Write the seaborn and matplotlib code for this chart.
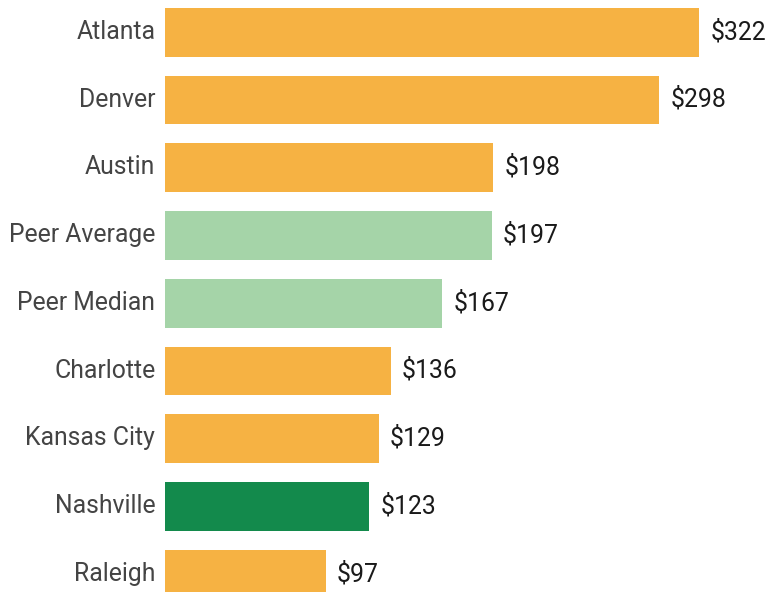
import pandas as pd
import matplotlib
matplotlib.use("Agg")
import matplotlib.pyplot as plt
import seaborn as sns

# Values
cities = ["Atlanta", "Denver", "Austin", "Peer Average", "Peer Median",
          "Charlotte", "Kansas City", "Nashville", "Raleigh"]
cost = [322, 298, 198, 197, 167, 136, 129, 123, 97]
group = ["city", "city", "city", "peer", "peer", "city", "city", "focus", "city"]

colors = {"city": "#F6B243", "peer": "#A5D4A8", "focus": "#138A4C"}

df = pd.DataFrame({"City": cities, "Cost": cost, "Group": group})

sns.set_style("white")
plt.rcParams['font.family'] = ['Roboto', 'DejaVu Sans']

fig = plt.figure(figsize=(7.83, 5.92), dpi=100)
ax = fig.add_axes([165 / 783, 0, 1 - 165 / 783, 1])

sns.barplot(data=df, y="City", x="Cost", hue="Group", palette=colors,
            dodge=False, width=0.72, saturation=1, legend=False,
            linewidth=0, ax=ax)

ax.set_xlim(0, 618 / 1.659)
ax.set_ylim(8.261, -0.477)

# city names left of the axis and values at the end of each bar
for i, (name, v) in enumerate(zip(cities, cost)):
    ax.annotate(name, xy=(0, i), xycoords=("axes fraction", "data"),
                xytext=(-7, 0.3), textcoords="offset points",
                va="center", ha="right", fontsize=17.8, color="#444444")
    ax.annotate(f"${v}", xy=(v, i), xytext=(8, 0.3), textcoords="offset points",
                va="center", ha="left", fontsize=17.8, color="#1a1a1a")

ax.set_xlabel("")
ax.set_ylabel("")
ax.set_xticks([])
ax.set_yticks([])
sns.despine(ax=ax, left=True, bottom=True)

fig.savefig("out.png", dpi=100)
